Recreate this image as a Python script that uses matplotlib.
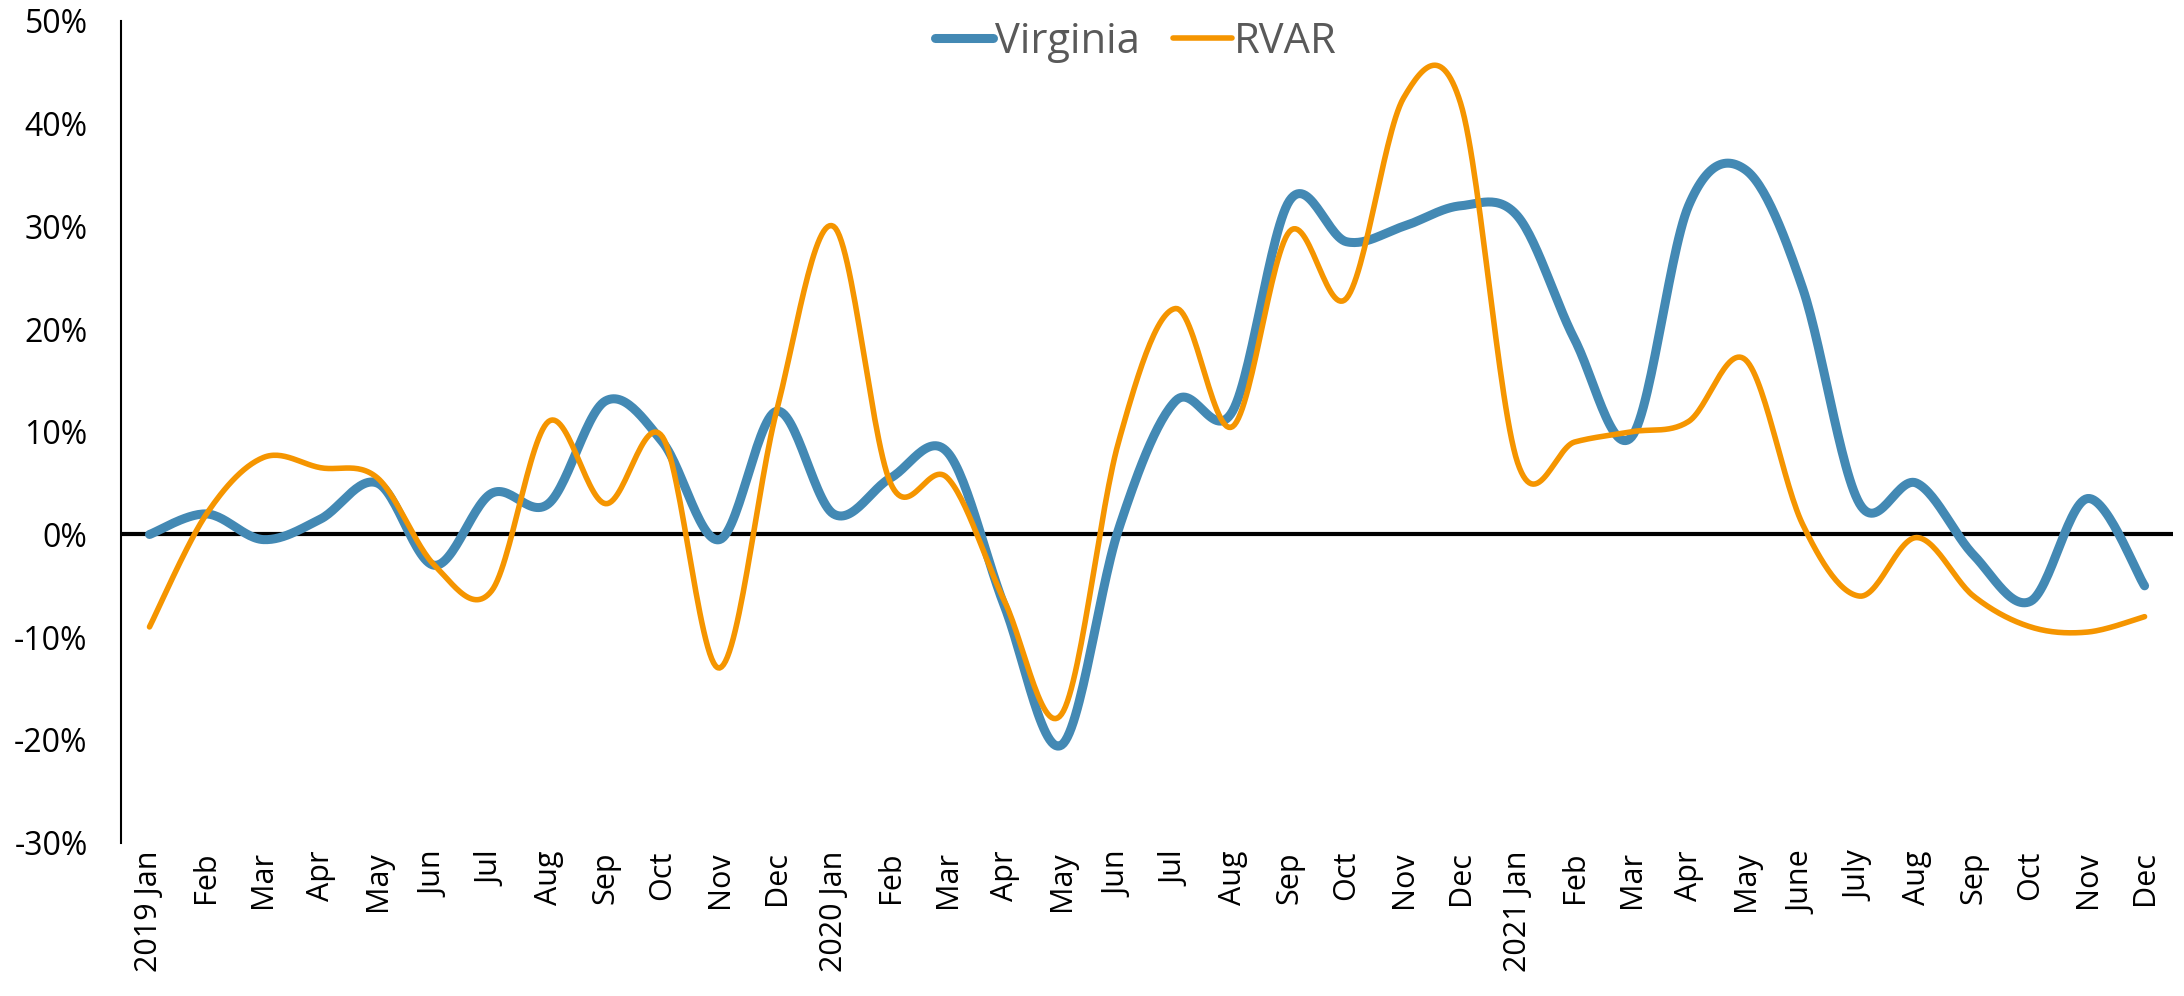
import numpy as np
import matplotlib

matplotlib.use("Agg")
import matplotlib.pyplot as plt

months = ["2019 Jan", "Feb", "Mar", "Apr", "May", "Jun", "Jul", "Aug", "Sep", "Oct", "Nov", "Dec",
          "2020 Jan", "Feb", "Mar", "Apr", "May", "Jun", "Jul", "Aug", "Sep", "Oct", "Nov", "Dec",
          "2021 Jan", "Feb", "Mar", "Apr", "May", "June", "July", "Aug", "Sep", "Oct", "Nov", "Dec"]

virginia = [0.0, 2.0, -0.5, 1.5, 5.0, -3.0, 4.0, 3.0, 13.0, 9.0, -0.5, 12.0,
            2.0, 5.5, 8.0, -7.0, -20.5, 0.5, 13.0, 12.0, 32.5, 28.5, 30.0, 32.0,
            31.0, 19.0, 9.5, 32.0, 35.5, 24.0, 3.0, 5.0, -2.0, -6.5, 3.5, -5.0]

rvar = [-9.0, 2.0, 7.5, 6.5, 5.5, -3.0, -5.5, 11.0, 3.0, 9.5, -13.0, 12.0,
        30.0, 5.0, 5.5, -6.5, -17.5, 9.0, 22.0, 10.5, 29.5, 23.0, 42.5, 42.0,
        7.0, 9.0, 10.0, 11.0, 17.0, 1.0, -6.0, -0.3, -6.0, -9.0, -9.5, -8.0]

BLUE = "#4389b4"
ORANGE = "#f59500"


def smooth(values, n=30):
    # Excel-like smoothed line: Catmull-Rom segments as cubic Bezier curves
    y = np.asarray(values, dtype=float) / 100.0
    x = np.arange(len(y), dtype=float)
    px = np.concatenate([[x[0]], x, [x[-1]]])
    py = np.concatenate([[y[0]], y, [y[-1]]])
    t = np.linspace(0, 1, n)
    xs, ys = [], []
    for i in range(len(y) - 1):
        p0x, p1x, p2x, p3x = px[i], px[i + 1], px[i + 2], px[i + 3]
        p0y, p1y, p2y, p3y = py[i], py[i + 1], py[i + 2], py[i + 3]
        b1x, b1y = p1x + (p2x - p0x) / 6, p1y + (p2y - p0y) / 6
        b2x, b2y = p2x - (p3x - p1x) / 6, p2y - (p3y - p1y) / 6
        bx = (1 - t) ** 3 * p1x + 3 * (1 - t) ** 2 * t * b1x + 3 * (1 - t) * t ** 2 * b2x + t ** 3 * p2x
        by = (1 - t) ** 3 * p1y + 3 * (1 - t) ** 2 * t * b1y + 3 * (1 - t) * t ** 2 * b2y + t ** 3 * p2y
        xs.append(bx)
        ys.append(by)
    return np.concatenate(xs), np.concatenate(ys)


plt.rcParams["font.family"] = ["Open Sans", "DejaVu Sans"]

fig = plt.figure(figsize=(21.84, 9.96), dpi=100)
ax = fig.add_axes([0.0554, 0.154, 0.9396, 0.825])

ax.axhline(0, color="black", linewidth=3, zorder=1)

vx, vy = smooth(virginia)
rx, ry = smooth(rvar)
ax.plot(vx, vy, color=BLUE, linewidth=6.5, solid_capstyle="round", solid_joinstyle="round",
        label="Virginia", zorder=2)
ax.plot(rx, ry, color=ORANGE, linewidth=4, solid_capstyle="round", solid_joinstyle="round",
        label="RVAR", zorder=3)

ax.set_xlim(-0.5, len(months) - 0.5)
ax.set_ylim(-0.3, 0.5)
ax.set_yticks(np.arange(-0.3, 0.51, 0.1))
ax.set_yticklabels([f"{v:.0f}%" for v in np.arange(-30, 51, 10)], fontsize=23)
ax.set_xticks(range(len(months)))
ax.set_xticklabels(months, rotation=90, fontsize=22, ha="center", va="top")
ax.tick_params(axis="both", length=0)
ax.tick_params(axis="y", pad=24)
ax.tick_params(axis="x", pad=6)

for side in ("top", "right", "bottom"):
    ax.spines[side].set_visible(False)
ax.spines["left"].set_linewidth(1.5)

leg = fig.legend(loc="center", bbox_to_anchor=(0.52, 0.958), ncol=2, frameon=False,
                 fontsize=30, handlelength=1.4, handletextpad=0.05, columnspacing=0.8)
for text in leg.get_texts():
    text.set_color("#595959")

fig.savefig("out.png", dpi=100)
